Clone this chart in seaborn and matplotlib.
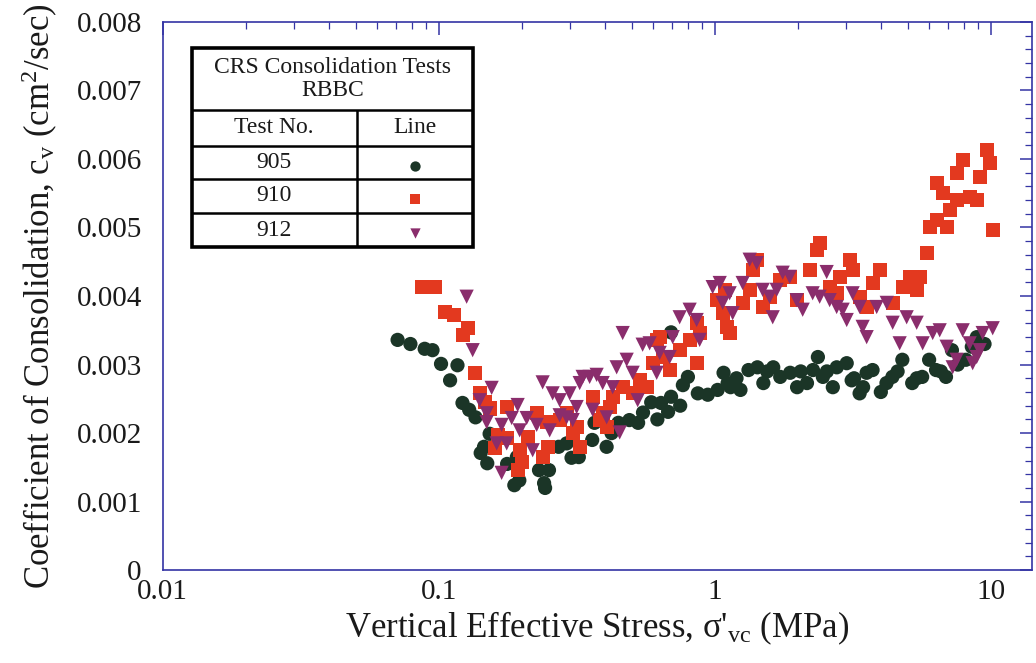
import numpy as np
import pandas as pd
import matplotlib
matplotlib.use("Agg")
import matplotlib.pyplot as plt
import seaborn as sns
from matplotlib.ticker import FixedLocator, FuncFormatter, LogLocator, NullFormatter, MultipleLocator
from matplotlib.lines import Line2D

# ---------------- data ----------------
tests = ["905", "910", "912"]

x_905 = [0.071, 0.079, 0.089, 0.095, 0.102, 0.117, 0.110, 0.122, 0.129, 0.136, 0.153, 0.146,
         0.142, 0.150, 0.177, 0.192, 0.196, 0.188, 0.231, 0.251, 0.241, 0.243,
         0.303, 0.322, 0.272, 0.291, 0.367, 0.406, 0.423, 0.448, 0.491, 0.528, 0.589, 0.639,
         0.678, 0.695, 0.695, 0.767, 0.800, 0.869, 0.944, 1.025, 1.077, 1.114,
         1.142, 1.240, 1.326, 1.428, 1.501, 1.630, 1.728, 1.877, 1.989, 2.160, 2.271, 2.366,
         2.466, 2.680, 2.769, 3.009, 3.136, 3.351, 3.552, 3.45,
         3.733, 4.193, 4.405, 4.786, 5.196, 5.646, 5.984, 6.341, 6.888, 7.238, 8.130, 8.545, 8.906,
         0.36, 0.55, 0.62, 0.75, 1.20, 1.55, 2.05, 2.55, 3.20, 4.00, 4.60, 5.40, 6.60, 7.60, 9.50]
y_905 = [0.00336, 0.00330, 0.00323, 0.00321, 0.00301, 0.00299, 0.00277, 0.00244, 0.00234, 0.00223, 0.00199, 0.00180,
         0.00171, 0.00156, 0.00155, 0.00165, 0.00131, 0.00124, 0.00146, 0.00146, 0.00127, 0.00120,
         0.00164, 0.00165, 0.00180, 0.00185, 0.00215, 0.00180, 0.00200, 0.00215, 0.00219, 0.00215, 0.00245, 0.00244,
         0.00231, 0.00253, 0.00347, 0.00270, 0.00282, 0.00258, 0.00256, 0.00263, 0.00288, 0.00273,
         0.00267, 0.00263, 0.00292, 0.00296, 0.00273, 0.00296, 0.00282, 0.00288, 0.00267, 0.00273, 0.00292, 0.00311,
         0.00282, 0.00267, 0.00296, 0.00302, 0.00277, 0.00258, 0.00288, 0.00267,
         0.00292, 0.00273, 0.00282, 0.00307, 0.00273, 0.00282, 0.00307, 0.00292, 0.00282, 0.00321, 0.00307, 0.00326, 0.00340,
         0.00190, 0.00230, 0.00220, 0.00240, 0.00280, 0.00290, 0.00290, 0.00290, 0.00280, 0.00260, 0.00290, 0.00280, 0.00290, 0.00300, 0.00330]

x_910 = [0.0868, 0.0967, 0.1051, 0.1133, 0.1222, 0.1274, 0.1350, 0.1408, 0.1468, 0.1530, 0.1764, 0.1636,
         0.1596, 0.1764, 0.1966, 0.1933, 0.1999, 0.2265, 0.2462, 0.2482, 0.2381, 0.2101,
         0.2744, 0.2910, 0.3162, 0.3059, 0.3243, 0.3614, 0.3831, 0.4062, 0.4270, 0.4642, 0.5046, 0.5350,
         0.5963, 0.6321, 0.7468, 0.8605, 0.8823, 0.3929, 0.4165, 0.5669, 0.6165, 0.6481, 0.6871, 0.8117, 0.8605,
         1.017, 1.069, 1.105, 1.133, 1.087, 1.263, 1.339, 1.373, 1.420, 1.493, 1.582, 1.720, 1.870, 1.982,
         2.209, 2.342, 2.401, 2.610, 2.767, 2.838, 3.084, 3.162, 3.353, 3.554, 3.737, 3.961, 4.415, 4.800,
         5.088, 5.394, 5.530, 5.863, 6.012, 6.373, 6.927, 7.102, 6.373, 6.700, 7.529, 7.529, 7.918, 8.393,
         8.898, 9.124, 9.672, 9.917, 10.17]
y_910 = [0.00413, 0.00413, 0.00377, 0.00372, 0.00343, 0.00353, 0.00288, 0.00258, 0.00245, 0.00236, 0.00238, 0.00197,
         0.00178, 0.00193, 0.00175, 0.00146, 0.00158, 0.00229, 0.00216, 0.00180, 0.00165, 0.00194,
         0.00219, 0.00229, 0.00209, 0.00200, 0.00180, 0.00253, 0.00219, 0.00209, 0.00253, 0.00267, 0.00258, 0.00277,
         0.00302, 0.00340, 0.00321, 0.00302, 0.00346, 0.00229, 0.00238, 0.00267, 0.00336, 0.00311, 0.00292, 0.00336, 0.00361,
         0.00394, 0.00375, 0.00355, 0.00346, 0.00409, 0.00390, 0.00409, 0.00438, 0.00453, 0.00384, 0.00399, 0.00423, 0.00428, 0.00394,
         0.00438, 0.00467, 0.00477, 0.00413, 0.00404, 0.00428, 0.00453, 0.00438, 0.00399, 0.00384, 0.00419, 0.00438, 0.00390, 0.00413,
         0.00428, 0.00409, 0.00428, 0.00463, 0.00501, 0.00511, 0.00501, 0.00526, 0.00565, 0.00550, 0.00540, 0.00580, 0.00599, 0.00545,
         0.00540, 0.00574, 0.00613, 0.00594, 0.00496]

x_912 = [0.1263, 0.1328, 0.1556, 0.1408, 0.1493, 0.1493, 0.1691, 0.1839, 0.1933, 0.2084, 0.2265, 0.1966,
         0.1623, 0.1764, 0.2191, 0.1691, 0.2381, 0.2588, 0.2525, 0.2744, 0.2984, 0.2744, 0.3162, 0.2910,
         0.3243, 0.3524, 0.3736, 0.3929, 0.4270, 0.4642, 0.4800, 0.4415, 0.5046, 0.5483, 0.5813, 0.6321,
         0.6871, 0.7046, 0.7468, 0.8117, 0.8605, 0.4528, 0.3614, 0.4062, 0.3059, 0.3324, 0.6165, 0.5260, 0.8823,
         0.9835, 1.043, 1.069, 1.133, 1.162, 1.263, 1.339, 1.420, 1.493, 1.582, 1.678, 1.623, 1.764, 1.870,
         1.982, 2.084, 2.265, 2.401, 2.546, 2.610, 2.767, 2.909, 3.009, 3.162, 3.353, 3.437, 3.554, 3.864,
         4.202, 4.415, 4.680, 4.962, 5.394, 5.670, 6.165, 6.536, 6.927, 7.529, 7.918, 8.393, 8.898, 9.354,
         10.17, 9.124, 8.606, 7.283]
y_912 = [0.00399, 0.00321, 0.00266, 0.00248, 0.00229, 0.00216, 0.00212, 0.00222, 0.00241, 0.00222, 0.00212, 0.00204,
         0.00185, 0.00185, 0.00175, 0.00142, 0.00274, 0.00258, 0.00204, 0.00248, 0.00258, 0.00226, 0.00238, 0.00223,
         0.00273, 0.00282, 0.00285, 0.00273, 0.00267, 0.00346, 0.00307, 0.00296, 0.00288, 0.00329, 0.00331, 0.00317,
         0.00311, 0.00340, 0.00369, 0.00380, 0.00365, 0.00201, 0.00234, 0.00223, 0.00219, 0.00282, 0.00288, 0.00248, 0.00336,
         0.00413, 0.00419, 0.00390, 0.00404, 0.00375, 0.00419, 0.00453, 0.00448, 0.00409, 0.00399, 0.00409, 0.00369, 0.00434, 0.00428,
         0.00394, 0.00380, 0.00404, 0.00399, 0.00435, 0.00394, 0.00384, 0.00380, 0.00365, 0.00404, 0.00384, 0.00355, 0.00340, 0.00384,
         0.00390, 0.00361, 0.00331, 0.00369, 0.00361, 0.00331, 0.00346, 0.00350, 0.00326, 0.00307, 0.00350, 0.00331, 0.00311, 0.00346,
         0.00353, 0.00321, 0.00302, 0.00296]

x_ticks = [0.01, 0.1, 1, 10]
x_tick_labels = ["0.01", "0.1", "1", "10"]
y_ticks = [0, 0.001, 0.002, 0.003, 0.004, 0.005, 0.006, 0.007, 0.008]

colors = {"905": "#1b3527", "910": "#e3391f", "912": "#8a2d6c"}
markers = {"905": "o", "910": "s", "912": "v"}

df = pd.concat([
    pd.DataFrame({"stress": x_905, "cv": y_905, "test": "905"}),
    pd.DataFrame({"stress": x_910, "cv": y_910, "test": "910"}),
    pd.DataFrame({"stress": x_912, "cv": y_912, "test": "912"}),
], ignore_index=True)

# ---------------- style ----------------
sns.set_theme(style="white")
plt.rcParams["font.family"] = ["Liberation Serif", "DejaVu Serif"]
plt.rcParams["mathtext.fontset"] = "custom"
plt.rcParams["mathtext.rm"] = "Liberation Serif"
plt.rcParams["mathtext.it"] = "Liberation Serif:italic"

blue = "#3434a4"

fig = plt.figure(figsize=(10.36, 6.63), dpi=100)
ax = fig.add_axes([0.157, 0.140, 0.839, 0.827])

sns.scatterplot(data=df, x="stress", y="cv", hue="test", style="test",
                palette=colors, markers=markers, s=105, linewidth=0,
                legend=False, ax=ax, zorder=3)

ax.set_xscale("log")
ax.set_xlim(0.01, 14.1)
ax.set_ylim(0, 0.008)

ax.xaxis.set_major_locator(FixedLocator(x_ticks))
ax.xaxis.set_major_formatter(FuncFormatter(lambda v, p: x_tick_labels[x_ticks.index(v)] if v in x_ticks else ""))
ax.xaxis.set_minor_locator(LogLocator(base=10, subs=np.arange(2, 10)))
ax.xaxis.set_minor_formatter(NullFormatter())
ax.yaxis.set_major_locator(FixedLocator(y_ticks))
ax.yaxis.set_major_formatter(FuncFormatter(lambda v, p: "0" if abs(v) < 1e-12 else f"{v:.3f}"))
ax.yaxis.set_minor_locator(MultipleLocator(0.0002))

for sp in ax.spines.values():
    sp.set_color(blue)
    sp.set_linewidth(1.2)

ax.tick_params(which="both", direction="in", top=True, right=True, color=blue, labelcolor="#1a1a1a")
ax.tick_params(which="major", length=9, width=1.1, labelsize=21)
ax.tick_params(axis="y", which="major", pad=15)
ax.tick_params(axis="x", which="major", pad=6)
ax.tick_params(which="minor", length=5, width=0.9)

ax.set_xlabel("Vertical Effective Stress, σ'$_{\\mathrm{vc}}$ (MPa)", fontsize=25, labelpad=4,
              color="#1a1a1a")
ax.set_ylabel("Coefficient of Consolidation, c$_{\\mathrm{v}}$ (cm$^2$/sec)", fontsize=25, labelpad=12,
              color="#1a1a1a")
ax.grid(False)

# ---------------- legend table ----------------
tx0, tx1, txm = 0.0334, 0.357, 0.2232
ty = [0.9526, 0.8394, 0.7737, 0.7135, 0.6515, 0.589]
T = ax.transAxes
kw = dict(transform=T, color="black", zorder=5, solid_capstyle="butt")
ax.add_patch(plt.Rectangle((tx0, ty[-1]), tx1 - tx0, ty[0] - ty[-1], transform=T,
                           facecolor="white", edgecolor="black", linewidth=2.6, zorder=4))
for yy in ty[1:-1]:
    ax.add_line(Line2D([tx0, tx1], [yy, yy], linewidth=1.8, **kw))
ax.add_line(Line2D([txm, txm], [ty[1], ty[-1]], linewidth=1.8, **kw))

fs_t = 17
ax.text((tx0 + tx1) / 2, (ty[0] + ty[1]) / 2, "CRS Consolidation Tests\nRBBC", transform=T,
        ha="center", va="center", fontsize=fs_t, linespacing=1.1, zorder=6, color="#1a1a1a")
ax.text((tx0 + txm) / 2, (ty[1] + ty[2]) / 2, "Test No.", transform=T,
        ha="center", va="center", fontsize=fs_t, zorder=6, color="#1a1a1a")
ax.text((txm + tx1) / 2, (ty[1] + ty[2]) / 2, "Line", transform=T,
        ha="center", va="center", fontsize=fs_t, zorder=6, color="#1a1a1a")
for i, t in enumerate(tests):
    yc = (ty[2 + i] + ty[3 + i]) / 2
    ax.text((tx0 + txm) / 2, yc, t, transform=T, ha="center", va="center", fontsize=fs_t,
            zorder=6, color="#1a1a1a")
    ax.scatter([(txm + tx1) / 2], [yc - 0.006], transform=T, marker=markers[t], s=55,
               color=colors[t], linewidth=0, zorder=6, clip_on=False)

fig.savefig("out.png", dpi=100)
